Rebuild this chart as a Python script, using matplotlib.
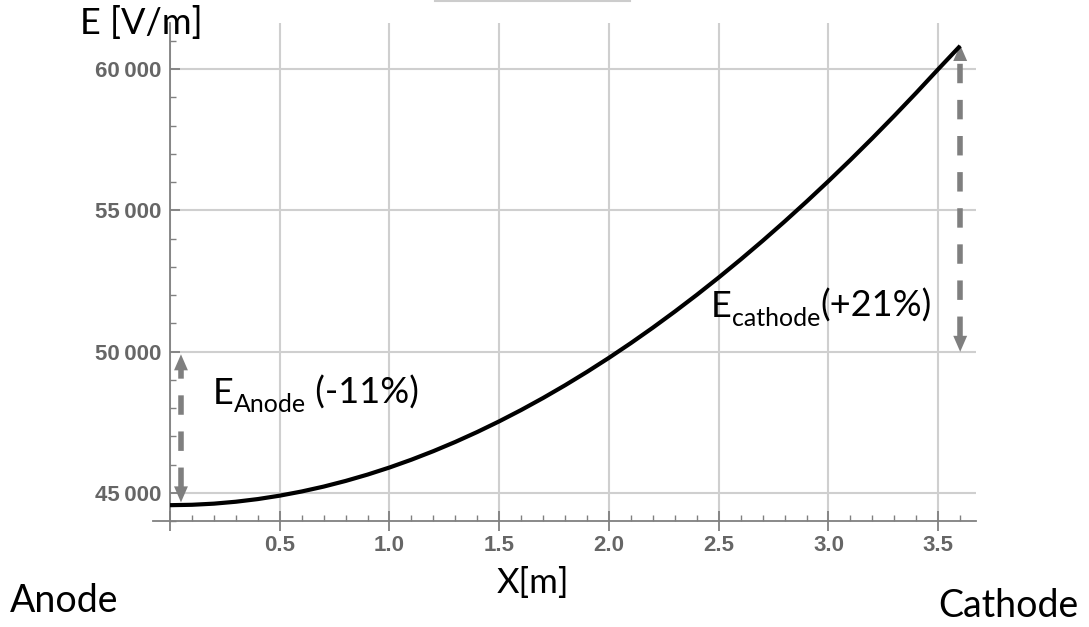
import numpy as np
import matplotlib.pyplot as plt
from matplotlib.lines import Line2D

plt.rcParams['lines.scale_dashes'] = False

# Field strength along the gap, anode (x=0) to cathode
x_m = [0.0, 0.1, 0.2, 0.3, 0.4, 0.5, 0.6, 0.7, 0.8, 0.9,
       1.0, 1.1, 1.2, 1.3, 1.4, 1.5, 1.6, 1.7, 1.8, 1.9,
       2.0, 2.1, 2.2, 2.3, 2.4, 2.5, 2.6, 2.7, 2.8, 2.9,
       3.0, 3.1, 3.2, 3.3, 3.4, 3.5, 3.6]
e_field = [44560, 44574, 44614, 44682, 44776, 44897, 45045, 45218, 45418, 45643,
           45894, 46171, 46473, 46800, 47152, 47529, 47930, 48356, 48806, 49280,
           49778, 50300, 50846, 51415, 52006, 52621, 53259, 53919, 54602, 55307,
           56034, 56783, 57554, 58347, 59161, 59996, 60820]

# Deviation arrows: (x, low, high)
anode_arrow = (0.05, 44660, 49900)
cathode_arrow = (3.60, 49990, 60850)

x_ticks = [0.0, 0.5, 1.0, 1.5, 2.0, 2.5, 3.0, 3.5]
x_ticklabels = ['', '0.5', '1.0', '1.5', '2.0', '2.5', '3.0', '3.5']
y_ticks = [45000, 50000, 55000, 60000]
y_ticklabels = ['45\u2009000', '50\u2009000', '55\u2009000', '60\u2009000']

W, H = 1089, 627
fig = plt.figure(figsize=(W / 100, H / 100), dpi=100)
ax = fig.add_axes([170 / W, 1 - 521 / H, (976 - 170) / W, (521 - 23) / H])

ax.set_xlim(0, 3.672)
ax.set_ylim(44010, 61630)

axis_grey = '#808080'
grid_grey = '#cfcfcf'
label_grey = '#666666'
arrow_grey = '#7f7f7f'

for s in ['top', 'right']:
    ax.spines[s].set_visible(False)
for s in ['left', 'bottom']:
    ax.spines[s].set_color(axis_grey)
    ax.spines[s].set_linewidth(1.3)

ax.set_xticks(x_ticks)
ax.set_xticklabels(x_ticklabels)
ax.set_yticks(y_ticks)
ax.set_yticklabels(y_ticklabels)
ax.set_xticks(np.arange(0.1, 3.65, 0.1), minor=True)
ax.set_yticks(np.arange(44000, 61700, 1000), minor=True)

ax.tick_params(axis='x', which='major', direction='inout', length=14.4, width=1.3,
               color=axis_grey, pad=3)
ax.tick_params(axis='y', which='major', direction='in', length=7.2, width=1.3,
               color=axis_grey, pad=6)
ax.tick_params(which='minor', direction='in', length=4.3, width=1.0, color=axis_grey)
for lab in ax.get_xticklabels() + ax.get_yticklabels():
    lab.set_fontfamily('Liberation Sans')
    lab.set_fontweight('bold')
    lab.set_fontsize(16)
    lab.set_color(label_grey)

ax.grid(True, which='major', color=grid_grey, linewidth=1.5)
ax.set_axisbelow(True)

# x axis line runs a little past the origin
ax.plot([-0.077, 0], [44010, 44010], color=axis_grey, lw=1.3, clip_on=False)

ax.plot(x_m, e_field, color='black', lw=3, solid_capstyle='butt', zorder=5)

HEAD = 560  # arrow head length in field units


def dashed_arrow(x, lo, hi):
    ax.plot([x, x], [lo + HEAD, hi - HEAD], color=arrow_grey, lw=4,
            dashes=(14, 12), dash_capstyle='butt', zorder=4)
    style = dict(arrowstyle='-|>,head_length=1.15,head_width=0.5',
                 mutation_scale=10, color=arrow_grey, lw=0,
                 shrinkA=0, shrinkB=0)
    ax.annotate('', xy=(x, hi), xytext=(x, hi - HEAD), arrowprops=style, zorder=4)
    ax.annotate('', xy=(x, lo), xytext=(x, lo + HEAD), arrowprops=style, zorder=4)


dashed_arrow(*anode_arrow)
dashed_arrow(*cathode_arrow)

# text placed in pixel coordinates (from the top-left corner)
renderer = fig.canvas.get_renderer()
font = 'Lato'


def px(x, y):
    return x / W, 1 - y / H


def runs(x, y, parts):
    for txt, size, dy in parts:
        t = fig.text(*px(x, y + dy), txt, fontsize=size, family=font,
                     va='baseline', ha='left')
        x += t.get_window_extent(renderer).width


fig.text(*px(80, 34), 'E [V/m]', fontsize=26, family=font, va='baseline')
fig.text(*px(497, 593), 'X[m]', fontsize=25, family=font, va='baseline')
fig.text(*px(938, 617), 'Cathode', fontsize=27, family=font, va='baseline')
fig.text(*px(10, 612), 'Anode', fontsize=27, family=font, va='baseline')

runs(213, 404, [('E', 26, 0), ('Anode', 18, 8), (' (-11%)', 26, 0)])
runs(711, 317, [('E', 26, 0), ('cathode', 18, 9), ('(+21%)', 26, 0)])

fig.add_artist(Line2D([435 / W, 630 / W], [1 - 1 / H, 1 - 1 / H],
                      color='#cccccc', lw=1.5))

fig.savefig('out.png', dpi=100)
